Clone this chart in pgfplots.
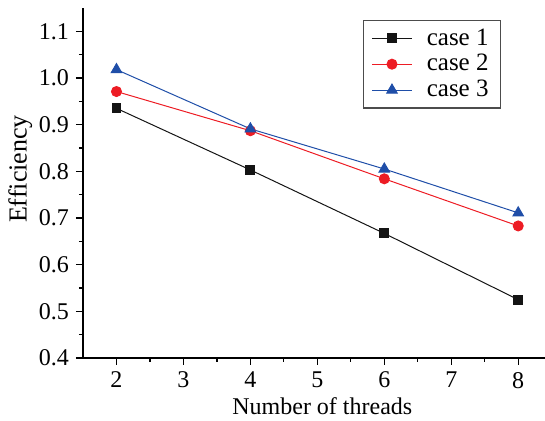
\documentclass[border=0pt]{standalone}
\usepackage{fontspec}
\setmainfont{Liberation Serif}
\usepackage{pgfplots}
\pgfplotsset{compat=1.18}
\definecolor{c1}{RGB}{20,20,20}
\definecolor{c2}{RGB}{237,28,36}
\definecolor{c3}{RGB}{31,78,168}

\begin{document}
\begin{tikzpicture}
  \begin{axis}[
    scale only axis,
    width=231pt, height=175pt,
    xmin=1.5, xmax=8.4, ymin=0.4, ymax=1.15,
    axis lines=left,
    axis line style={-, line width=0.75pt},
    tick align=outside,
    xtick={2,3,4,5,6,7,8},
    minor x tick num=1,
    ytick={0.4,0.5,0.6,0.7,0.8,0.9,1.0,1.1},
    minor y tick num=1,
    major tick length=3.5pt, minor tick length=2pt,
    tick style={line width=0.6pt, black},
    yticklabel style={/pgf/number format/fixed, /pgf/number format/fixed zerofill, /pgf/number format/precision=1},
    /pgf/number format/assume math mode=true,
    tick label style={font=\rmfamily\fontsize{12}{14}\selectfont},
    xlabel={Number of threads},
    ylabel={Efficiency},
    xlabel style={font=\rmfamily\fontsize{12}{14}\selectfont, at={(axis description cs:0.518,0)}, anchor=base, yshift=-28.5pt},
    ylabel style={font=\rmfamily\fontsize{13}{15}\selectfont, at={(axis description cs:-0.136,0.54)}, anchor=center},
    legend style={at={(rel axis cs:0.606,0.966)}, anchor=north west,
      draw=black!70, line width=0.6pt, font=\rmfamily\fontsize{12.5}{14}\selectfont,
      inner xsep=4pt, inner ysep=2pt, row sep=-0.8pt},
    legend cell align=left,
    legend image code/.code={\draw[mark repeat=2,mark phase=2] plot coordinates {(0cm,0cm)(0.35cm,0cm)(0.7cm,0cm)};},
  ]
  \addplot[c1, line width=0.5pt, mark=square*, mark size=2.2pt] coordinates {
    (2,0.935) (4,0.803) (6,0.667) (8,0.525)
  };
  \addlegendentry{\ \,case 1}
  \addplot[c2, line width=0.5pt, mark=*, mark size=2.5pt] coordinates {
    (2,0.971) (4,0.887) (6,0.784) (8,0.683)
  };
  \addlegendentry{\ \,case 2}
  \addplot[c3, line width=0.5pt, mark=triangle*, mark size=3pt] coordinates {
    (2,1.018) (4,0.891) (6,0.805) (8,0.711)
  };
  \addlegendentry{\ \,case 3}
  \end{axis}
  \pgfresetboundingbox
  \path ([shift={(-41.5pt,-31.5pt)}]current axis.south west) rectangle ([shift={(0pt,4pt)}]current axis.north east);
\end{tikzpicture}
\end{document}
